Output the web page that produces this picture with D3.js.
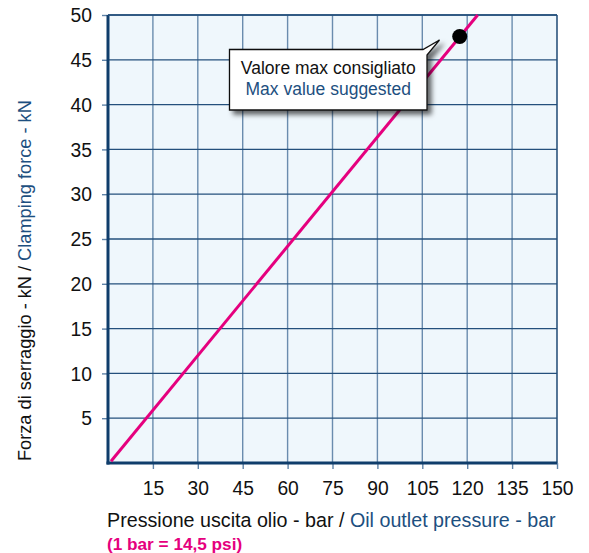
<!DOCTYPE html>
<html><head><meta charset="utf-8">
<script src="https://cdn.jsdelivr.net/npm/d3@7"></script>
<style>
html,body{margin:0;padding:0;background:#fff;}
svg{display:block;font-family:"Liberation Sans",Arial,sans-serif;}
</style></head>
<body>
<svg id="c" width="589" height="553"></svg>
<script>
// Data
const xTicks = [15, 30, 45, 60, 75, 90, 105, 120, 135, 150];
const yTicks = [5, 10, 15, 20, 25, 30, 35, 40, 45, 50];
const lineBar = [1, 123.5];      // oil outlet pressure (bar)
const lineKN  = [0.2, 50];       // clamping force (kN)
const maxBar = [117.5];
const maxKN  = [47.6];
const calloutLines = ["Valore max consigliato", "Max value suggested"];
const xTitleIt = "Pressione uscita olio - bar / ";
const xTitleEn = "Oil outlet pressure - bar";
const yTitleIt = "Forza di serraggio - kN / ";
const yTitleEn = "Clamping force - kN";
const note = "(1 bar = 14,5 psi)";

const L = 108, R = 557, T = 15, B = 463;
const svg = d3.select("#c");
const x = d3.scaleLinear().domain([0, 150]).range([L, R]);
const y = d3.scaleLinear().domain([0, 50]).range([B, T]);

const navy = "#0f3d6b", blueTxt = "#1d4f80", pink = "#e5007e";

const defs = svg.append("defs");
const f = defs.append("filter").attr("id","sh").attr("x","-20%").attr("y","-20%").attr("width","150%").attr("height","160%");
f.append("feDropShadow").attr("dx",4).attr("dy",4).attr("stdDeviation",2.5).attr("flood-color","#000").attr("flood-opacity",0.6);

// background
svg.append("rect").attr("x",L).attr("y",T).attr("width",R-L).attr("height",B-T).attr("fill","#eff7fc");

// grid
svg.append("g").selectAll("line").data(xTicks).join("line")
  .attr("x1",d=>x(d)).attr("x2",d=>x(d)).attr("y1",T).attr("y2",B)
  .attr("stroke", d=> d===150 ? navy : "#6a8cae").attr("stroke-width",1.4);
svg.append("g").selectAll("line").data(yTicks).join("line")
  .attr("x1",L).attr("x2",R).attr("y1",d=>y(d)).attr("y2",d=>y(d))
  .attr("stroke","#24507c").attr("stroke-width",1.3);

// axes
const xa = svg.append("g").attr("transform",`translate(0,${B})`)
  .call(d3.axisBottom(x).tickValues(xTicks).tickSize(6).tickPadding(12));
const ya = svg.append("g").attr("transform",`translate(${L},0)`)
  .call(d3.axisLeft(y).tickValues(yTicks).tickSize(6).tickPadding(10));
[xa, ya].forEach(a => {
  a.select(".domain").remove();
  a.selectAll(".tick line").attr("stroke","#5f83a8").attr("stroke-width",1.4);
  a.selectAll(".tick text").attr("fill","#111").attr("font-size","19.3px")
    .attr("font-family","'Liberation Sans',Arial,sans-serif");
});
xa.selectAll(".tick text").attr("dy","0.71em");
ya.selectAll(".tick text").attr("dy","0.35em");

// axis lines
svg.append("line").attr("x1",L).attr("x2",L).attr("y1",T).attr("y2",B+1.5).attr("stroke",navy).attr("stroke-width",3);
svg.append("line").attr("x1",L-1.5).attr("x2",R).attr("y1",B).attr("y2",B).attr("stroke",navy).attr("stroke-width",3);
svg.append("line").attr("x1",L).attr("x2",R).attr("y1",T).attr("y2",T).attr("stroke","#24507c").attr("stroke-width",1.3);

// pink line
svg.append("path").datum(d3.zip(lineBar, lineKN))
  .attr("d", d3.line().x(d=>x(d[0])).y(d=>y(d[1])))
  .attr("stroke",pink).attr("stroke-width",3).attr("fill","none");

// max point
svg.append("g").selectAll("circle").data(d3.zip(maxBar,maxKN)).join("circle")
  .attr("cx",d=>x(d[0])).attr("cy",d=>y(d[1])).attr("r",7.5).attr("fill","#000");

// callout
const bx0 = 229.5, bx1 = 427, by0 = 49.5, by1 = 110;
svg.append("path")
  .attr("d",`M${bx0},${by0} H423 L439.5,40 L${bx1},55 V${by1} H${bx0} Z`)
  .attr("fill","#fff").attr("stroke","#111").attr("stroke-width",1.3).attr("filter","url(#sh)");
const ct = svg.append("text").attr("x",(bx0+bx1)/2).attr("text-anchor","middle").attr("font-size","17.5px");
ct.append("tspan").attr("x",(bx0+bx1)/2).attr("y",73.5).attr("fill","#111").text(calloutLines[0]);
ct.append("tspan").attr("x",(bx0+bx1)/2).attr("y",95).attr("fill",blueTxt).text(calloutLines[1]);

// x title
const xt = svg.append("text").attr("x",107).attr("y",526.5).attr("font-size","19.7px");
xt.append("tspan").attr("fill","#111").text(xTitleIt);
xt.append("tspan").attr("fill",blueTxt).text(xTitleEn);
svg.append("text").attr("x",107).attr("y",549.5).attr("font-size","17.2px").attr("font-weight","bold")
  .attr("fill",pink).text(note);

// y title
const yt = svg.append("text").attr("transform","translate(31,461) rotate(-90)").attr("font-size","18.2px");
yt.append("tspan").attr("fill","#111").text(yTitleIt);
yt.append("tspan").attr("fill",blueTxt).text(yTitleEn);
</script>
</body></html>
